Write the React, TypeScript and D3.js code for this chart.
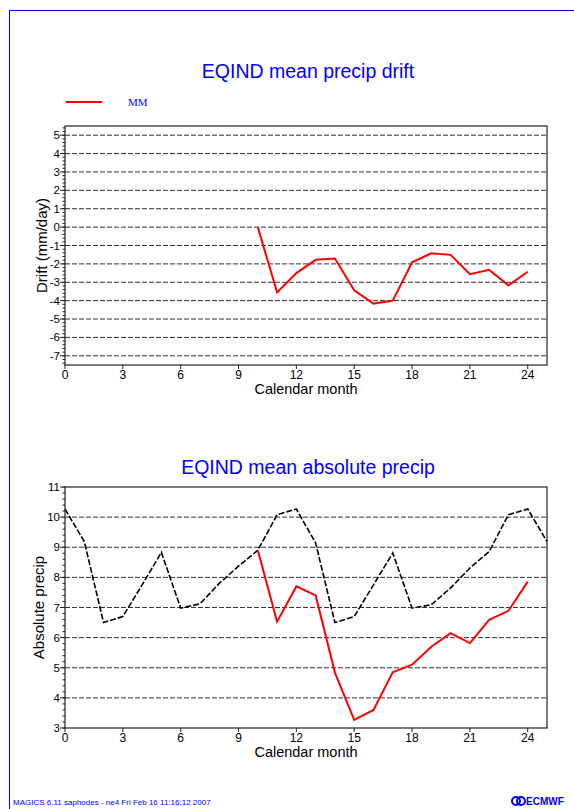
import React from 'react';
import * as d3 from 'd3';

// calendar months on the x axis
const xTicks = [0, 3, 6, 9, 12, 15, 18, 21, 24];

// top panel: drift of the MM run (mm/day)
const driftMonths = [10, 11, 12, 13, 14, 15, 16, 17, 18, 19, 20, 21, 22, 23, 24];
const driftMM = [0, -3.55, -2.5, -1.78, -1.71, -3.44, -4.16, -4.0, -1.91, -1.42, -1.51, -2.56, -2.32, -3.17, -2.43];
const driftTicks = [-7, -6, -5, -4, -3, -2, -1, 0, 1, 2, 3, 4, 5];

// bottom panel: absolute precip, climate (black dashed) and MM (red)
const climMonths = [0, 1, 2, 3, 4, 5, 6, 7, 8, 9, 10, 11, 12, 13, 14, 15, 16, 17, 18, 19, 20, 21, 22, 23, 24, 25];
const climValues = [10.27, 9.19, 6.5, 6.7, 7.75, 8.83, 6.98, 7.12, 7.8, 8.37, 8.9, 10.08, 10.27, 9.14, 6.5, 6.7, 7.75, 8.81, 6.98, 7.09, 7.65, 8.31, 8.86, 10.08, 10.27, 9.19];
const mmMonths = [10, 11, 12, 13, 14, 15, 16, 17, 18, 19, 20, 21, 22, 23, 24];
const mmValues = [8.9, 6.53, 7.7, 7.4, 4.84, 3.27, 3.6, 4.85, 5.1, 5.7, 6.15, 5.82, 6.59, 6.89, 7.86];
const absTicks = [3, 4, 5, 6, 7, 8, 9, 10, 11];
const absGrid = [4, 5, 6, 7, 8, 9, 10];

const SANS = 'Liberation Sans, Arial, sans-serif';
const BLUE = '#0000ff';

type PanelProps = {
  top: number;
  bottom: number;
  yDomain: [number, number];
  yTicks: number[];
  grid: number[];
  minorStep: number;
  yLabel: string;
  yLabelX: number;
  title: string;
  titleY: number;
  children: (x: d3.ScaleLinear<number, number>, y: d3.ScaleLinear<number, number>) => React.ReactNode;
};

const left = 65;
const right = 547;

const Panel = ({ top, bottom, yDomain, yTicks, grid, minorStep, yLabel, yLabelX, title, titleY, children }: PanelProps) => {
  const x = d3.scaleLinear().domain([0, 25]).range([left, right]);
  const y = d3.scaleLinear().domain(yDomain).range([bottom, top]);
  const minor = d3.range(Math.ceil(yDomain[0] / minorStep), Math.floor(yDomain[1] / minorStep) + 1).map((k) => k * minorStep);
  const mid = (left + right) / 2;
  return (
    <g>
      <text x={mid + 2} y={titleY} textAnchor="middle" fill={BLUE} fontFamily={SANS} fontSize={19.5}>
        {title}
      </text>
      {/* dashed grid */}
      {grid.map((v) => (
        <line key={'g' + v} x1={left} x2={right} y1={y(v)} y2={y(v)} stroke="#333" strokeWidth={1} strokeDasharray="5 2" />
      ))}
      {children(x, y)}
      <rect x={left} y={top} width={right - left} height={bottom - top} fill="none" stroke="#222" strokeWidth={1.2} />
      {/* y minor + major ticks */}
      {minor.map((v, i) => (
        <line key={'m' + i} x1={left - 2.5} x2={left} y1={y(v)} y2={y(v)} stroke="#222" strokeWidth={1} />
      ))}
      {yTicks.map((v) => (
        <g key={'y' + v}>
          <line x1={left - 5} x2={left} y1={y(v)} y2={y(v)} stroke="#222" strokeWidth={1} />
          <text x={left - 5} y={y(v) + 4} textAnchor="end" fontFamily={SANS} fontSize={11.5} fill="#000">
            {v}
          </text>
        </g>
      ))}
      {/* x ticks */}
      {xTicks.map((v) => (
        <g key={'x' + v}>
          <line x1={x(v)} x2={x(v)} y1={bottom} y2={bottom + 4} stroke="#222" strokeWidth={1} />
          <text x={x(v)} y={bottom + 14} textAnchor="middle" fontFamily={SANS} fontSize={12} fill="#000">
            {v}
          </text>
        </g>
      ))}
      <text x={mid} y={bottom + 29} textAnchor="middle" fontFamily={SANS} fontSize={14.5} fill="#000">
        Calendar month
      </text>
      <text
        transform={`translate(${yLabelX}, ${(top + bottom) / 2}) rotate(-90)`}
        textAnchor="middle"
        fontFamily={SANS}
        fontSize={15}
        fill="#000"
      >
        {yLabel}
      </text>
    </g>
  );
};

export default function App() {
  const line = (xs: number[], ys: number[], x: d3.ScaleLinear<number, number>, y: d3.ScaleLinear<number, number>) =>
    d3
      .line<number>()
      .x((_, i) => x(xs[i]))
      .y((d) => y(d))(ys) || '';

  return (
    <svg width={574} height={809} style={{ position: 'absolute', left: 0, top: 0, background: '#fff' }}>
      {/* outer blue frame running off the page */}
      <rect x={9.5} y={10.5} width={700} height={900} fill="none" stroke={BLUE} strokeWidth={1} />

      {/* legend */}
      <line x1={66} x2={102} y1={102} y2={102} stroke="#ff0000" strokeWidth={2} />
      <text x={128} y={106} fill={BLUE} fontFamily="Liberation Serif, Times, serif" fontSize={11}>
        MM
      </text>

      <Panel
        top={126}
        bottom={365}
        yDomain={[-7.5, 5.5]}
        yTicks={driftTicks}
        grid={driftTicks}
        minorStep={0.2}
        yLabel="Drift (mm/day)"
        yLabelX={47}
        title="EQIND mean precip drift"
        titleY={78}
      >
        {(x, y) => <path d={line(driftMonths, driftMM, x, y)} fill="none" stroke="#ff0000" strokeWidth={2} />}
      </Panel>

      <Panel
        top={487}
        bottom={728}
        yDomain={[3, 11]}
        yTicks={absTicks}
        grid={absGrid}
        minorStep={0.2}
        yLabel="Absolute precip"
        yLabelX={44}
        title="EQIND mean absolute precip"
        titleY={474}
      >
        {(x, y) => (
          <g>
            <path d={line(climMonths, climValues, x, y)} fill="none" stroke="#000" strokeWidth={1.6} strokeDasharray="6 2" />
            <path d={line(mmMonths, mmValues, x, y)} fill="none" stroke="#ff0000" strokeWidth={2} />
          </g>
        )}
      </Panel>

      {/* footer */}
      <text x={13} y={805} fill={BLUE} fontFamily={SANS} fontSize={8}>
        MAGICS 6.11 saphodes - ne4 Fri Feb 16 11:16:12 2007
      </text>
      <g fill={BLUE}>
        <circle cx={516} cy={801} r={4} fill="none" stroke={BLUE} strokeWidth={2} />
        <circle cx={521} cy={801} r={4} fill="none" stroke={BLUE} strokeWidth={2} />
        <text x={526} y={805} fontFamily={SANS} fontWeight="bold" fontSize={10}>
          ECMWF
        </text>
      </g>
    </svg>
  );
}
